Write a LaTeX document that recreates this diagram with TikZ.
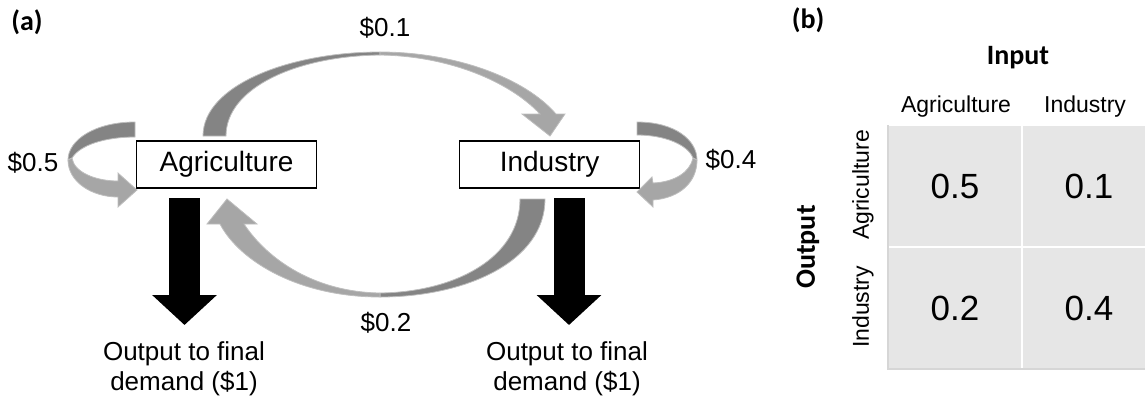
\documentclass[tikz,border=0pt]{standalone}
\usepackage{fontspec}
\setmainfont{Liberation Sans}
\newfontfamily\headfont{Carlito}
\usepackage{xcolor}
\usepackage{tikz}
\usetikzlibrary{arrows.meta,positioning}
\definecolor{backgray}{HTML}{848484}
\definecolor{frontgray}{HTML}{A6A6A6}
\definecolor{edgegray}{HTML}{BEBEBE}
\definecolor{cellgray}{HTML}{E6E6E6}
\definecolor{rulegray}{HTML}{D6D6D6}

\begin{document}
\begin{tikzpicture}[x=0.5pt, y=-0.5pt, thick,
  sector/.style = {draw, line width=0.8pt, minimum width=90pt, minimum height=23.5pt, inner sep=0pt, font=\fontsize{14}{16}\selectfont},
  lbl/.style = {font=\fontsize{13}{15}\selectfont, align=center},
  back/.style = {fill=backgray, draw=edgegray, line width=0.4pt},
  front/.style = {fill=frontgray, draw=edgegray, line width=0.4pt},
  outarrow/.style = {line width=15.5pt, -{Triangle[width=31.5pt, length=15pt]}},
  cell/.style = {fill=cellgray, draw=white, line width=1pt, outer sep=0pt, minimum width=67pt, minimum height=61pt, inner sep=0pt, font=\fontsize{17.5}{20}\selectfont},
  head/.style = {font=\headfont\bfseries\fontsize{14}{16}\selectfont},
  colhead/.style = {font=\fontsize{11.5}{13}\selectfont}]
\useasboundingbox (0,0) rectangle (1145,403);

% (a) flows between the two sectors
\node[head] (pa) at (27,22) {(a)};
\node[sector] (agri) at (226.5,164.5) {Agriculture};
\node[sector] (ind) [right=70.75pt of agri] {Industry};

% agriculture -> industry, over the top
\fill[back] (203,136) .. controls (203,85) and (290,52) .. (380,52)
  -- (380,55) .. controls (296,56) and (226,88) .. (226,136) -- cycle;
\fill[front] (380,52) .. controls (455,52) and (525,78) .. (556,114)
  -- (565,114) -- (550,136) -- (522,114) -- (540,114)
  .. controls (510,82) and (450,56) .. (380,55) -- cycle;
% industry -> agriculture, underneath
\fill[back] (545,199) .. controls (545,262) and (465,297) .. (380,297)
  -- (380,293) .. controls (455,292) and (520,258) .. (520,199) -- cycle;
\fill[front] (380,297) .. controls (300,297) and (240,262) .. (220,224)
  -- (207,224) -- (227,199) -- (257,224) -- (244,224)
  .. controls (268,260) and (315,292) .. (380,293) -- cycle;
% agriculture -> agriculture
\fill[back] (135,122) .. controls (95,122) and (68,140) .. (68,160)
  -- (72,158) .. controls (80,145) and (105,137) .. (135,137) -- cycle;
\fill[front] (68,160) .. controls (68,182) and (92,197) .. (118,197)
  -- (118,207) -- (137,190) -- (118,173) -- (118,181)
  .. controls (95,181) and (74,172) .. (72,158) -- cycle;
% industry -> industry
\fill[back] (637,122) .. controls (675,122) and (697,140) .. (697,160)
  -- (693,158) .. controls (688,145) and (665,135) .. (637,135) -- cycle;
\fill[front] (697,160) .. controls (697,182) and (680,198) .. (653,200)
  -- (653,207) -- (637,192) -- (652,177) -- (653,183)
  .. controls (675,182) and (690,172) .. (693,158) -- cycle;

\node[lbl] (p01) at (385,28) {\$0.1};
\node[lbl] (p05) at (33,163) {\$0.5};
\node[lbl] (p04) at (731,160) {\$0.4};
\node[lbl] (p02) at (386,323) {\$0.2};

% final demand
\coordinate (agriout) at (184.5,198);
\coordinate (agritip) at (184.5,325);
\coordinate (indout) at (569,198);
\coordinate (indtip) at (569,325);
\draw[outarrow] (agriout) -- (agritip);
\draw[outarrow] (indout) -- (indtip);
\node[lbl] (agridem) at (184,369) {Output to final\\demand (\$1)};
\node[lbl] (inddem) at (567,369) {Output to final\\demand (\$1)};

% (b) coefficient table
\node[head] (pb) at (808,20) {(b)};
\node[cell] (c11) at (955,186) {0.5};
\node[cell, right=0pt of c11] (c12) {0.1};
\node[cell, below=0pt of c11] (c21) {0.2};
\node[cell, right=0pt of c21] (c22) {0.4};
\draw[rulegray, line width=0.6pt] (c11.north west) -- (c21.south west) -- (c22.south east);
\node[head] (inp) at (1018,58) {Input};
\node[colhead] (hagri) at (956,107) {Agriculture};
\node[colhead] (hind) at (1085,107) {Industry};
\node[head, rotate=90] (outp) at (808,247) {Output};
\node[colhead, rotate=90] (vagri) at (863,185) {Agriculture};
\node[colhead, rotate=90] (vind) at (863,307) {Industry};
\end{tikzpicture}
\end{document}
